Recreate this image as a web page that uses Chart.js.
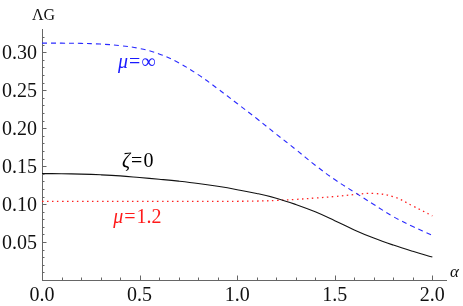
<!DOCTYPE html>
<html>
<head>
<meta charset="utf-8">
<script src="https://cdn.jsdelivr.net/npm/chart.js@4/dist/chart.umd.min.js"></script>
<style>
  html, body { margin: 0; padding: 0; background: #fff; }
  #wrap { width: 463px; height: 306px; }
</style>
</head>
<body>
<div id="wrap"><canvas id="chart" width="463" height="306"></canvas></div>
<script>
// alpha grid and the three curves
const alphaValues = [0, 0.1, 0.2, 0.3, 0.4, 0.5, 0.6, 0.7, 0.8, 0.9, 1.0,
                     1.1, 1.2, 1.3, 1.4, 1.5, 1.6, 1.7, 1.8, 1.9, 2.0];
const muInfValues = [0.312, 0.312, 0.3117, 0.3108, 0.3088, 0.3050, 0.2978, 0.2862, 0.2705, 0.2520, 0.2325,
                     0.2127, 0.1922, 0.1720, 0.1512, 0.1323, 0.1158, 0.0995, 0.0835, 0.0705, 0.0588];
const zetaZeroValues = [0.1402, 0.1400, 0.1395, 0.1386, 0.1372, 0.1350, 0.1327, 0.1302, 0.1272, 0.1234, 0.1190,
                        0.1140, 0.1078, 0.0995, 0.0898, 0.0782, 0.0660, 0.0552, 0.0460, 0.0378, 0.0302];
const mu12Values = [0.1035, 0.1035, 0.1035, 0.1035, 0.1035, 0.1035, 0.1035, 0.1035, 0.1036, 0.1036, 0.1037,
                    0.1040, 0.1048, 0.1062, 0.1080, 0.1100, 0.1125, 0.1140, 0.1098, 0.0975, 0.0845];

const xTicks = [0, 0.5, 1.0, 1.5, 2.0];
const yTicks = [0.05, 0.10, 0.15, 0.20, 0.25, 0.30];

const serif = "'Liberation Serif', 'DejaVu Serif', serif";
const axisGray = '#666';

function points(ys) {
  return alphaValues.map((a, i) => ({ x: a, y: ys[i] }));
}

// inward Mathematica-style ticks (major + minor)
const inwardTicks = {
  id: 'inwardTicks',
  afterDatasetsDraw(chart) {
    const ctx = chart.ctx;
    const xs = chart.scales.x, ys = chart.scales.y;
    const x0 = xs.getPixelForValue(0);
    const yb = ys.getPixelForValue(0);
    ctx.save();
    ctx.strokeStyle = axisGray;
    ctx.lineWidth = 1;
    ctx.beginPath();
    for (let i = 1; i <= 20; i++) {
      const px = Math.round(xs.getPixelForValue(i / 10)) + 0.5;
      const len = i % 5 === 0 ? 4.5 : 2.5;
      ctx.moveTo(px, yb);
      ctx.lineTo(px, yb - len);
    }
    for (let i = 1; i <= 32; i++) {
      const py = Math.round(ys.getPixelForValue(i / 100)) + 0.5;
      const len = i % 5 === 0 ? 4.5 : 2.5;
      ctx.moveTo(x0, py);
      ctx.lineTo(x0 + len, py);
    }
    ctx.stroke();
    ctx.restore();
  }
};

// curve labels (left edge at the given data point) and axis titles
function drawMixed(ctx, parts, x, y, color) {
  ctx.fillStyle = color;
  let cx = x;
  parts.forEach(p => {
    ctx.font = p.font;
    ctx.fillText(p.t, cx, y);
    cx += ctx.measureText(p.t).width + 1;
  });
}

const labels = {
  id: 'labels',
  afterDraw(chart) {
    const ctx = chart.ctx;
    const xs = chart.scales.x, ys = chart.scales.y;
    const it = 'italic 20px ' + serif, rg = '20px ' + serif;
    ctx.save();
    ctx.textBaseline = 'alphabetic';
    ctx.textAlign = 'left';
    drawMixed(ctx, [{ t: 'μ', font: it }, { t: '=', font: rg }, { t: '∞', font: rg }],
      xs.getPixelForValue(0.389), ys.getPixelForValue(0.2798), '#1a1aff');
    drawMixed(ctx, [{ t: 'ζ', font: it }, { t: '=', font: rg }, { t: '0', font: rg }],
      xs.getPixelForValue(0.41), ys.getPixelForValue(0.1494), '#000');
    drawMixed(ctx, [{ t: 'μ', font: it }, { t: '=', font: rg }, { t: '1.2', font: rg }],
      xs.getPixelForValue(0.365), ys.getPixelForValue(0.0747), '#ff1a1a');
    ctx.fillStyle = '#111';
    ctx.font = '16px ' + serif;
    ctx.fillText('ΛG', 32, 19.5);
    ctx.font = 'italic 17px ' + serif;
    ctx.fillText('α', 450, 277);
    ctx.restore();
  }
};

new Chart(document.getElementById('chart'), {
  type: 'line',
  data: {
    datasets: [
      {
        label: 'mu=inf',
        data: points(muInfValues),
        borderColor: '#2a2aff',
        borderWidth: 1.1,
        borderDash: [5, 4],
        pointRadius: 0,
        tension: 0.4
      },
      {
        label: 'zeta=0',
        data: points(zetaZeroValues),
        borderColor: '#111',
        borderWidth: 1.1,
        pointRadius: 0,
        tension: 0.4
      },
      {
        label: 'mu=1.2',
        data: points(mu12Values),
        borderColor: '#ff2020',
        borderWidth: 1.3,
        borderDash: [1.5, 3.5],
        pointRadius: 0,
        tension: 0.4
      }
    ]
  },
  options: {
    responsive: false,
    devicePixelRatio: 1,
    animation: false,
    layout: { padding: { top: 29.5, right: 17, left: 0, bottom: 0 } },
    plugins: { legend: { display: false }, tooltip: { enabled: false } },
    scales: {
      x: {
        type: 'linear',
        min: 0,
        max: 2.07,
        afterFit: s => { s.height = 26; },
        afterBuildTicks: s => { s.ticks = xTicks.map(v => ({ value: v })); },
        grid: { display: false, drawTicks: false },
        border: { display: true, color: axisGray, width: 1 },
        ticks: {
          padding: 4,
          color: '#111',
          maxRotation: 0,
          font: { family: serif, size: 20 },
          callback: v => v.toFixed(1)
        }
      },
      y: {
        type: 'linear',
        min: 0,
        max: 0.33,
        afterFit: s => { s.width = 42; },
        afterBuildTicks: s => { s.ticks = yTicks.map(v => ({ value: v })); },
        grid: { display: false, drawTicks: false },
        border: { display: true, color: axisGray, width: 1 },
        ticks: {
          padding: 5,
          labelOffset: 1.5,
          color: '#111',
          font: { family: serif, size: 20 },
          callback: v => v.toFixed(2)
        }
      }
    }
  },
  plugins: [inwardTicks, labels]
});
</script>
</body>
</html>
